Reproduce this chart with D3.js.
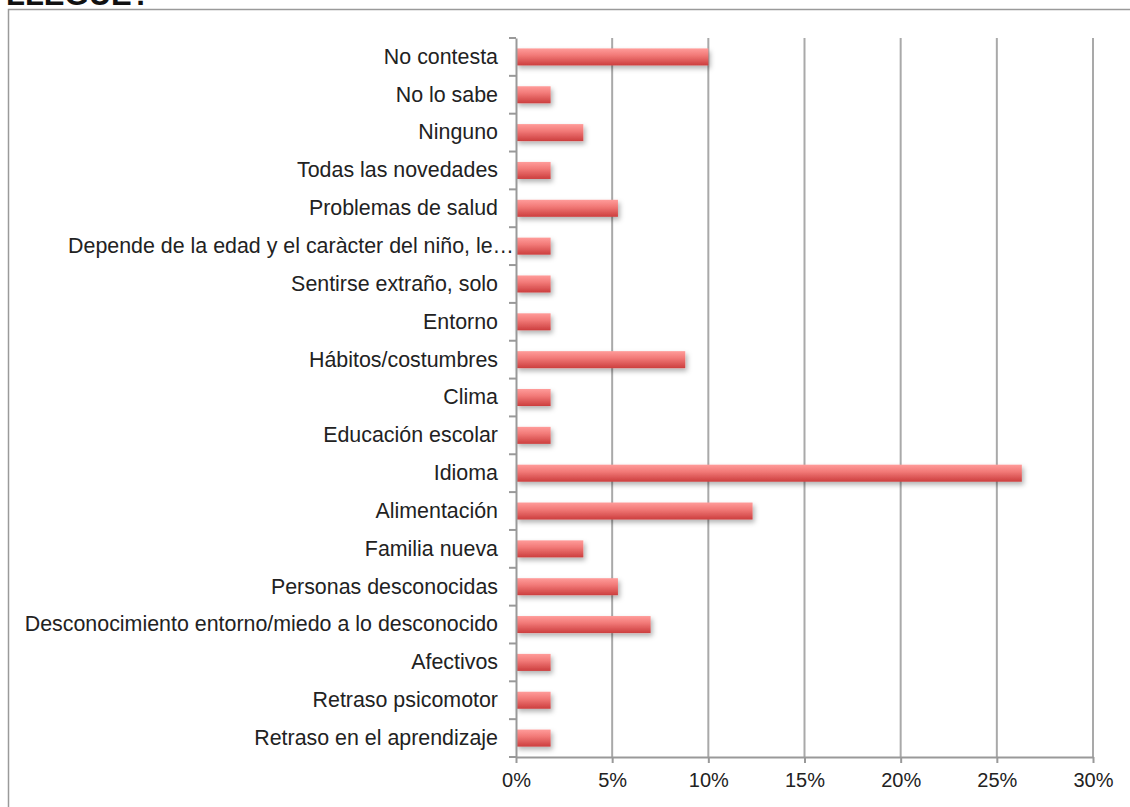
<!DOCTYPE html>
<html>
<head>
<meta charset="utf-8">
<script src="https://cdn.jsdelivr.net/npm/d3@7"></script>
<style>
  html, body { margin: 0; padding: 0; background: #fff; }
  svg { display: block; }
  text { font-family: "Liberation Sans", Arial, sans-serif; fill: #222; }
</style>
</head>
<body>
<svg id="chart" width="1130" height="807"></svg>
<script>
const categories = [
  "No contesta",
  "No lo sabe",
  "Ninguno",
  "Todas las novedades",
  "Problemas de salud",
  "Depende de la edad y el caràcter del niño, le…",
  "Sentirse extraño, solo",
  "Entorno",
  "Hábitos/costumbres",
  "Clima",
  "Educación escolar",
  "Idioma",
  "Alimentación",
  "Familia nueva",
  "Personas desconocidas",
  "Desconocimiento entorno/miedo a lo desconocido",
  "Afectivos",
  "Retraso psicomotor",
  "Retraso en el aprendizaje"
];
const values = [10.0, 1.8, 3.5, 1.8, 5.3, 1.8, 1.8, 1.8, 8.8, 1.8, 1.8, 26.3, 12.3, 3.5, 5.3, 7.0, 1.8, 1.8, 1.8];
const tickValues = [0, 5, 10, 15, 20, 25, 30];
const titleText = "LLEGUE?";

const svg = d3.select("#chart");
const margin = { left: 516, right: 37, top: 38, bottom: 50 };
const W = 1130, H = 807;

const x = d3.scaleLinear().domain([0, 30]).range([margin.left, W - margin.right]);
const y = d3.scaleBand().domain(categories).range([margin.top, H - margin.bottom]).paddingInner(0.55).paddingOuter(0.275);

// defs
const defs = svg.append("defs");
const grad = defs.append("linearGradient").attr("id", "barGrad").attr("x1", 0).attr("y1", 0).attr("x2", 0).attr("y2", 1);
grad.append("stop").attr("offset", "0%").attr("stop-color", "#ff9c9a");
grad.append("stop").attr("offset", "40%").attr("stop-color", "#f27a78");
grad.append("stop").attr("offset", "100%").attr("stop-color", "#cc3e3e");
const f = defs.append("filter").attr("id", "shadow").attr("x", "-10%").attr("y", "-40%").attr("width", "130%").attr("height", "200%");
f.append("feDropShadow").attr("dx", 2).attr("dy", 3).attr("stdDeviation", 2.5).attr("flood-color", "#000").attr("flood-opacity", 0.3);

// title (clipped at top, as in the reference)
svg.append("text").attr("x", 6).attr("y", 5)
  .attr("font-size", 31).attr("font-weight", "bold").style("fill", "#111").text(titleText);

// outer frame
svg.append("rect").attr("x", 8.5).attr("y", 9.5).attr("width", 1140).attr("height", 820)
  .attr("fill", "none").attr("stroke", "#9a9a9a").attr("stroke-width", 1.5);

// gridlines
svg.append("g").selectAll("line").data(tickValues.slice(1)).join("line")
  .attr("x1", d => x(d)).attr("x2", d => x(d))
  .attr("y1", margin.top).attr("y2", H - margin.bottom)
  .attr("stroke", "#a9a9a9").attr("stroke-width", 2);

// bars
svg.append("g").selectAll("rect").data(values).join("rect")
  .attr("x", x(0))
  .attr("y", (d, i) => y(categories[i]))
  .attr("width", d => x(d) - x(0))
  .attr("height", y.bandwidth())
  .attr("fill", "url(#barGrad)")
  .attr("filter", "url(#shadow)");

// y axis
const yAxis = d3.axisLeft(y).tickSize(0).tickPadding(18);
const gy = svg.append("g").attr("transform", `translate(${x(0)},0)`).call(yAxis);
gy.select(".domain").attr("stroke", "#999").attr("stroke-width", 2);
gy.selectAll("text").attr("font-size", 21.4).style("font-family", "'Liberation Sans', Arial, sans-serif").style("fill", "#222")
  .attr("dx", d => d.endsWith("…") ? 16 : 0);
// boundary tick marks
const bounds = d3.range(categories.length + 1).map(i => margin.top + i * (H - margin.bottom - margin.top) / categories.length);
svg.append("g").selectAll("line").data(bounds).join("line")
  .attr("x1", x(0) - 7).attr("x2", x(0))
  .attr("y1", d => d).attr("y2", d => d)
  .attr("stroke", "#999").attr("stroke-width", 2);

// x axis
const xAxis = d3.axisBottom(x).tickValues(tickValues).tickFormat(d => d + "%").tickSize(6).tickSizeOuter(0).tickPadding(10);
const gx = svg.append("g").attr("transform", `translate(0,${H - margin.bottom})`).call(xAxis);
gx.select(".domain").attr("stroke", "#999").attr("stroke-width", 2);
gx.selectAll(".tick line").attr("stroke", "#999").attr("stroke-width", 2);
gx.selectAll("text").attr("font-size", 20).style("font-family", "'Liberation Sans', Arial, sans-serif").style("fill", "#222");
</script>
</body>
</html>
